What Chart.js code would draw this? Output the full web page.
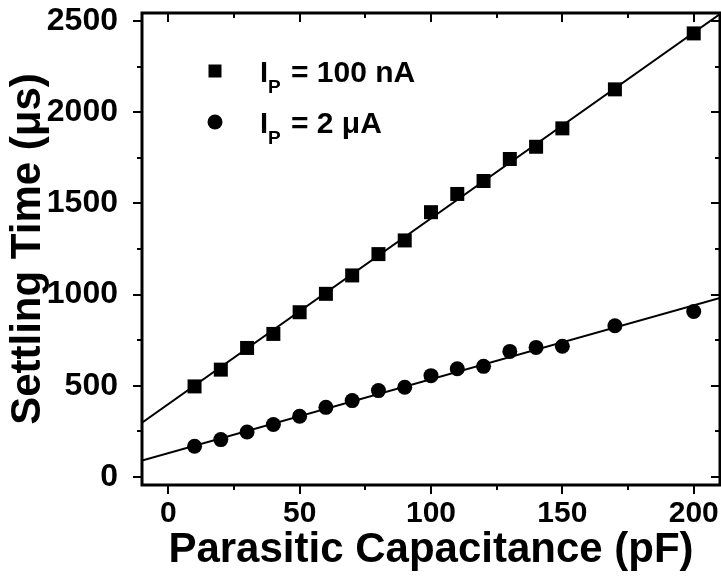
<!DOCTYPE html>
<html>
<head>
<meta charset="utf-8">
<script src="https://cdn.jsdelivr.net/npm/chart.js@4.4.0/dist/chart.umd.min.js"></script>
<style>
  html, body { margin: 0; padding: 0; background: #fff; }
  #wrap { width: 721px; height: 584px; }
</style>
</head>
<body>
<div id="wrap"><canvas id="myChart" width="721" height="584"></canvas></div>
<script>
// parasitic capacitance sweep (pF)
var capacitance = [10, 20, 30, 40, 50, 60, 70, 80, 90, 100, 110, 120, 130, 140, 150, 170, 200];
// settling time (us), I_P = 100 nA
var settle100nA = [496, 588, 707, 784, 903, 1004, 1105, 1222, 1297, 1452, 1552, 1623, 1744, 1811, 1912, 2126, 2433];
// settling time (us), I_P = 2 uA
var settle2uA = [168, 204, 246, 287, 332, 381, 418, 473, 491, 555, 593, 606, 688, 710, 716, 829, 907];
// straight-line fits, given by their end points at the x range limits
var fitX = [-10, 210];
var fit100nA = [297, 2539];
var fit2uA = [89, 981];

var xTicks = [0, 50, 100, 150, 200];
var xMinor = [25, 75, 125, 175];
var yTicks = [0, 500, 1000, 1500, 2000, 2500];
var yMinor = [250, 750, 1250, 1750, 2250];

var FONT = "'Liberation Sans', Arial, sans-serif";

function toPoints(xs, ys) {
  var pts = [];
  for (var i = 0; i < xs.length; i++) {
    pts.push({ x: xs[i], y: ys[i] });
  }
  return pts;
}

// no extra room for overhanging tick labels, the plot box is fixed
function noPadding(s) {
  s.paddingTop = 0; s.paddingBottom = 0;
  s.paddingLeft = 0; s.paddingRight = 0;
}

// box round the plot + tick marks (out on left/bottom, in on top/right)
var framePlugin = {
  id: 'frame',
  afterDraw: function(chart) {
    var c = chart.ctx, a = chart.chartArea;
    var xs = chart.scales.x, ys = chart.scales.y;
    c.save();
    c.strokeStyle = '#000';
    c.lineWidth = 2;
    c.beginPath();
    function vtick(v, len) {
      var px = Math.round(xs.getPixelForValue(v));
      c.moveTo(px, a.bottom); c.lineTo(px, a.bottom + len);
      c.moveTo(px, a.top); c.lineTo(px, a.top + len);
    }
    function htick(v, len) {
      var py = Math.round(ys.getPixelForValue(v));
      c.moveTo(a.left, py); c.lineTo(a.left - len, py);
      c.moveTo(a.right, py); c.lineTo(a.right - len, py);
    }
    xTicks.forEach(function(v) { vtick(v, 9); });
    xMinor.forEach(function(v) { vtick(v, 5); });
    yTicks.forEach(function(v) { htick(v, 9); });
    yMinor.forEach(function(v) { htick(v, 5); });
    c.stroke();
    c.lineWidth = 3;
    c.strokeRect(a.left, a.top, a.right - a.left, a.bottom - a.top);
    c.restore();
  }
};

// legend with subscripted I_P
var legendRows = [
  { marker: 'rect', rest: '= 100 nA' },
  { marker: 'circle', rest: '= 2 \u03bcA' }
];
var legendPlugin = {
  id: 'ipLegend',
  afterDraw: function(chart) {
    var c = chart.ctx;
    c.save();
    c.fillStyle = '#000';
    c.textBaseline = 'alphabetic';
    legendRows.forEach(function(row, i) {
      var my = 71 + i * 51;
      var base = my + 11;
      c.beginPath();
      if (row.marker == 'rect') {
        c.rect(215 - 6.5, my - 6.5, 13, 13);
      } else {
        c.arc(215, my, 7.5, 0, Math.PI * 2);
      }
      c.fill();
      c.font = 'bold 29px ' + FONT;
      c.fillText('I', 260, base);
      c.font = 'bold 19px ' + FONT;
      c.fillText('P', 268, base + 11);
      c.font = 'bold 30px ' + FONT;
      c.fillText(row.rest, 291, base);
    });
    c.restore();
  }
};

var ctx = document.getElementById('myChart').getContext('2d');
var myChart = new Chart(ctx, {
  type: 'scatter',
  data: {
    datasets: [{
      label: 'I_P = 100 nA',
      data: toPoints(capacitance, settle100nA),
      pointStyle: 'rect',
      pointRadius: 9.9,
      backgroundColor: '#000',
      borderWidth: 0
    }, {
      label: 'I_P = 2 uA',
      data: toPoints(capacitance, settle2uA),
      pointStyle: 'circle',
      pointRadius: 7.5,
      backgroundColor: '#000',
      borderWidth: 0
    }, {
      label: 'fit 100 nA',
      data: toPoints(fitX, fit100nA),
      showLine: true,
      pointRadius: 0,
      borderColor: '#000',
      borderWidth: 2
    }, {
      label: 'fit 2 uA',
      data: toPoints(fitX, fit2uA),
      showLine: true,
      pointRadius: 0,
      borderColor: '#000',
      borderWidth: 2
    }]
  },
  options: {
    responsive: false,
    animation: false,
    devicePixelRatio: 1,
    layout: { autoPadding: false, padding: { top: 13, right: 1, left: 0, bottom: 0 } },
    plugins: {
      legend: { display: false },
      tooltip: { enabled: false }
    },
    scales: {
      x: {
        type: 'linear',
        min: -10,
        max: 210,
        afterBuildTicks: function(s) { s.ticks = xTicks.map(function(v) { return { value: v }; }); },
        afterFit: function(s) { s.height = 99; noPadding(s); },
        grid: { display: false, drawTicks: false },
        border: { display: false },
        ticks: {
          color: '#000',
          padding: 11,
          maxRotation: 0,
          autoSkip: false,
          callback: function(v) { return String(v); },
          font: { family: FONT, size: 30, weight: 'bold' }
        },
        title: {
          display: true,
          text: 'Parasitic Capacitance (pF)',
          color: '#000',
          font: { family: FONT, size: 42, weight: 'bold' },
          padding: { top: 0, bottom: 8 }
        }
      },
      y: {
        type: 'linear',
        min: -45,
        max: 2545,
        afterBuildTicks: function(s) { s.ticks = yTicks.map(function(v) { return { value: v }; }); },
        afterFit: function(s) { s.width = 142; noPadding(s); },
        grid: { display: false, drawTicks: false },
        border: { display: false },
        ticks: {
          color: '#000',
          padding: 24,
          autoSkip: false,
          callback: function(v) { return String(v); },
          font: { family: FONT, size: 32, weight: 'bold' }
        },
        title: {
          display: true,
          text: 'Settling Time (\u03bcs)',
          color: '#000',
          font: { family: FONT, size: 42, weight: 'bold' },
          padding: { top: 3, bottom: 0 }
        }
      }
    }
  },
  plugins: [framePlugin, legendPlugin]
});
</script>
</body>
</html>
